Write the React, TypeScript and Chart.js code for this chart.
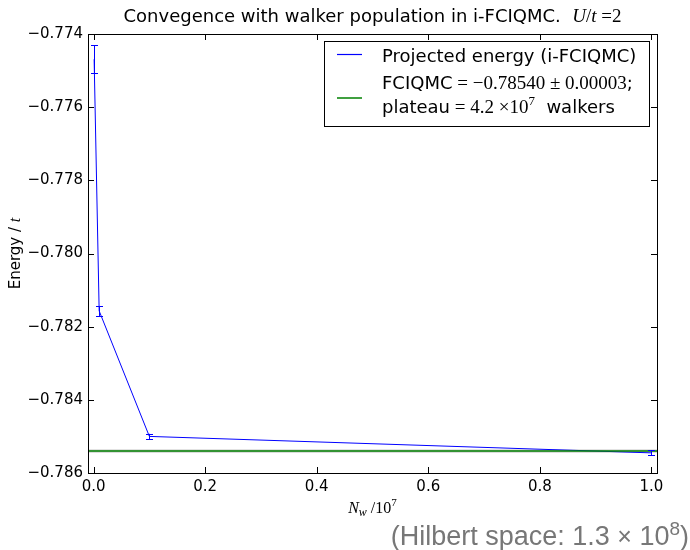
import React, { useEffect, useRef } from "react";
import { Chart, registerables } from "chart.js";

Chart.register(...registerables);

// ---- data ----
const walkers = [0.001, 0.01, 0.1, 1.0]; // N_w / 10^7
const energy = [-0.77469, -0.78157, -0.785, -0.78545];
const energyErr = [0.00038, 0.000137, 0.00007, 0.00007];
const fciqmcEnergy = -0.7854;
const fciqmcErr = 0.00003;
const xRange = [-0.01, 1.01];
const yRange = [-0.786, -0.774];
const xStep = 0.2;
const yStep = 0.002;

const SANS = '"DejaVu Sans"';
const SERIF = '"Liberation Serif"';

type Seg = { t: string; f: string; dy?: number };

function drawRich(
  ctx: CanvasRenderingContext2D,
  segs: Seg[],
  x: number,
  y: number,
  align: "left" | "center" | "right",
  color: string
) {
  ctx.save();
  ctx.textBaseline = "alphabetic";
  ctx.textAlign = "left";
  ctx.fillStyle = color;
  let total = 0;
  const widths = segs.map((s) => {
    ctx.font = s.f;
    const w = ctx.measureText(s.t).width;
    total += w;
    return w;
  });
  let cx = align === "left" ? x : align === "center" ? x - total / 2 : x - total;
  segs.forEach((s, i) => {
    ctx.font = s.f;
    ctx.fillText(s.t, cx, y + (s.dy || 0));
    cx += widths[i];
  });
  ctx.restore();
}

const fmtMinus = (v: number, d: number) =>
  (v < -1e-12 ? "\u2212" : "") + Math.abs(v).toFixed(d);

const decorPlugin = {
  id: "decor",
  beforeDatasetsDraw(chart: any) {
    const { ctx, chartArea, scales } = chart;
    const ys = scales.y;
    const y1 = ys.getPixelForValue(fciqmcEnergy + fciqmcErr);
    const y2 = ys.getPixelForValue(fciqmcEnergy - fciqmcErr);
    ctx.save();
    ctx.fillStyle = "rgba(150,150,150,0.5)";
    ctx.fillRect(chartArea.left, y1 - 0.5, chartArea.right - chartArea.left, y2 - y1 + 1);
    ctx.restore();
  },
  afterDatasetsDraw(chart: any) {
    const { ctx, scales } = chart;
    const xs = scales.x;
    const ys = scales.y;
    ctx.save();
    ctx.strokeStyle = "#0000ff";
    ctx.lineWidth = 1;
    walkers.forEach((w, i) => {
      const px = Math.round(xs.getPixelForValue(w)) + 0.5;
      const top = ys.getPixelForValue(energy[i] + energyErr[i]);
      const bot = ys.getPixelForValue(energy[i] - energyErr[i]);
      ctx.beginPath();
      ctx.moveTo(px, top);
      ctx.lineTo(px, bot);
      ctx.moveTo(px - 3.5, Math.round(top) + 0.5);
      ctx.lineTo(px + 3.5, Math.round(top) + 0.5);
      ctx.moveTo(px - 3.5, Math.round(bot) + 0.5);
      ctx.lineTo(px + 3.5, Math.round(bot) + 0.5);
      ctx.stroke();
    });
    ctx.restore();
  },
  afterDraw(chart: any) {
    const { ctx, chartArea, scales } = chart;
    const { left, right, top, bottom } = chartArea;
    const xs = scales.x;
    const ys = scales.y;
    ctx.save();
    // frame
    ctx.strokeStyle = "#000";
    ctx.lineWidth = 1;
    ctx.strokeRect(left + 0.5, top + 0.5, right - left, bottom - top);
    // inward ticks
    const tl = 6;
    ctx.beginPath();
    xs.ticks.forEach((t: any) => {
      const px = Math.round(xs.getPixelForValue(t.value)) + 0.5;
      ctx.moveTo(px, bottom);
      ctx.lineTo(px, bottom - tl);
      ctx.moveTo(px, top);
      ctx.lineTo(px, top + tl);
    });
    ys.ticks.forEach((t: any) => {
      const py = Math.round(ys.getPixelForValue(t.value)) + 0.5;
      ctx.moveTo(left, py);
      ctx.lineTo(left + tl, py);
      ctx.moveTo(right, py);
      ctx.lineTo(right - tl, py);
    });
    ctx.stroke();

    const cxMid = (left + right) / 2;
    // title
    drawRich(
      ctx,
      [
        { t: "Convegence with walker population in i-FCIQMC.  ", f: `18px ${SANS}` },
        { t: "U", f: `italic 19px ${SERIF}` },
        { t: "/", f: `19px ${SERIF}` },
        { t: "t", f: `italic 19px ${SERIF}` },
        { t: " =", f: `19px ${SERIF}` },
        { t: "2", f: `19px ${SERIF}` },
      ],
      cxMid,
      22,
      "center",
      "#000"
    );
    // x label
    drawRich(
      ctx,
      [
        { t: "N", f: `italic 16px ${SERIF}` },
        { t: "w", f: `italic 12px ${SERIF}`, dy: 3 },
        { t: " /10", f: `16px ${SERIF}` },
        { t: "7", f: `11px ${SERIF}`, dy: -7 },
      ],
      cxMid,
      513,
      "center",
      "#000"
    );
    // y label
    ctx.save();
    ctx.translate(20, (top + bottom) / 2);
    ctx.rotate(-Math.PI / 2);
    drawRich(
      ctx,
      [
        { t: "Energy / ", f: `15px ${SANS}` },
        { t: "t", f: `italic 16px ${SERIF}` },
      ],
      0,
      0,
      "center",
      "#000"
    );
    ctx.restore();

    // legend
    const lx = 324.5, ly = 41.5, lw = 325, lh = 85;
    ctx.fillStyle = "#fff";
    ctx.fillRect(lx, ly, lw, lh);
    ctx.strokeStyle = "#000";
    ctx.lineWidth = 1;
    ctx.strokeRect(lx, ly, lw, lh);
    ctx.lineWidth = 1.2;
    ctx.strokeStyle = "#0000ff";
    ctx.beginPath();
    ctx.moveTo(337, 54.5);
    ctx.lineTo(362, 54.5);
    ctx.stroke();
    ctx.strokeStyle = "#008000";
    ctx.lineWidth = 1.5;
    ctx.beginPath();
    ctx.moveTo(337, 98);
    ctx.lineTo(362, 98);
    ctx.stroke();
    const LF = `18px ${SANS}`;
    const MF = `19px ${SERIF}`;
    drawRich(ctx, [{ t: "Projected energy (i-FCIQMC)", f: LF }], 382, 62, "left", "#000");
    drawRich(
      ctx,
      [
        { t: "FCIQMC", f: LF },
        { t: " = \u22120.78540 \u00b1 0.00003", f: MF },
        { t: ";", f: LF },
      ],
      382,
      89,
      "left",
      "#000"
    );
    drawRich(
      ctx,
      [
        { t: "plateau", f: LF },
        { t: " = 4.2 \u00d710", f: MF },
        { t: "7", f: `13px ${SERIF}`, dy: -8 },
        { t: "  walkers", f: LF },
      ],
      382,
      113,
      "left",
      "#000"
    );

    // annotation
    drawRich(
      ctx,
      [
        { t: "(Hilbert space: 1.3 ", f: `27px "Liberation Sans"` },
        { t: "\u00d7", f: `25px "Liberation Sans"` },
        { t: " 10", f: `27px "Liberation Sans"` },
        { t: "8", f: `19px "Liberation Sans"`, dy: -10 },
        { t: ")", f: `27px "Liberation Sans"` },
      ],
      689,
      545,
      "right",
      "#777"
    );
    ctx.restore();
  },
};

export default function App() {
  const ref = useRef<HTMLCanvasElement | null>(null);
  useEffect(() => {
    document.body.style.margin = "0";
    const canvas = ref.current;
    if (!canvas) return;
    const chart = new Chart(canvas, {
      type: "scatter",
      data: {
        datasets: [
          {
            label: "FCIQMC",
            data: [
              { x: xRange[0], y: fciqmcEnergy },
              { x: xRange[1], y: fciqmcEnergy },
            ],
            showLine: true,
            borderColor: "#008000",
            borderWidth: 1.5,
            pointRadius: 0,
            order: 0,
          },
          {
            label: "Projected energy (i-FCIQMC)",
            data: walkers.map((w, i) => ({ x: w, y: energy[i] })),
            showLine: true,
            borderColor: "#0000ff",
            borderWidth: 1,
            pointRadius: 0,
            order: 1,
          },
        ],
      },
      options: {
        animation: false,
        responsive: false,
        maintainAspectRatio: false,
        layout: { padding: { left: 0, top: 34, right: 33, bottom: 0 } },
        plugins: {
          legend: { display: false },
          title: { display: false },
          tooltip: { enabled: false },
        },
        scales: {
          x: {
            type: "linear",
            min: xRange[0],
            max: xRange[1],
            grid: { display: false, drawTicks: false },
            border: { display: false },
            afterFit: (s: any) => {
              s.height = 77;
            },
            ticks: {
              stepSize: xStep,
              includeBounds: false,
              padding: 5,
              color: "#000",
              font: { family: "DejaVu Sans", size: 15 },
              maxRotation: 0,
              callback: (v: any) => fmtMinus(Number(v), 1),
            },
          },
          y: {
            type: "linear",
            min: yRange[0],
            max: yRange[1],
            grid: { display: false, drawTicks: false },
            border: { display: false },
            afterFit: (s: any) => {
              s.width = 88;
            },
            ticks: {
              stepSize: yStep,
              includeBounds: false,
              padding: 5,
              color: "#000",
              font: { family: "DejaVu Sans", size: 15 },
              callback: (v: any) => fmtMinus(Number(v), 3),
            },
          },
        },
      },
      plugins: [decorPlugin],
    });
    return () => chart.destroy();
  }, []);
  return (
    <div style={{ width: 690, height: 550 }}>
      <canvas ref={ref} width={690} height={550} style={{ display: "block" }} />
    </div>
  );
}
